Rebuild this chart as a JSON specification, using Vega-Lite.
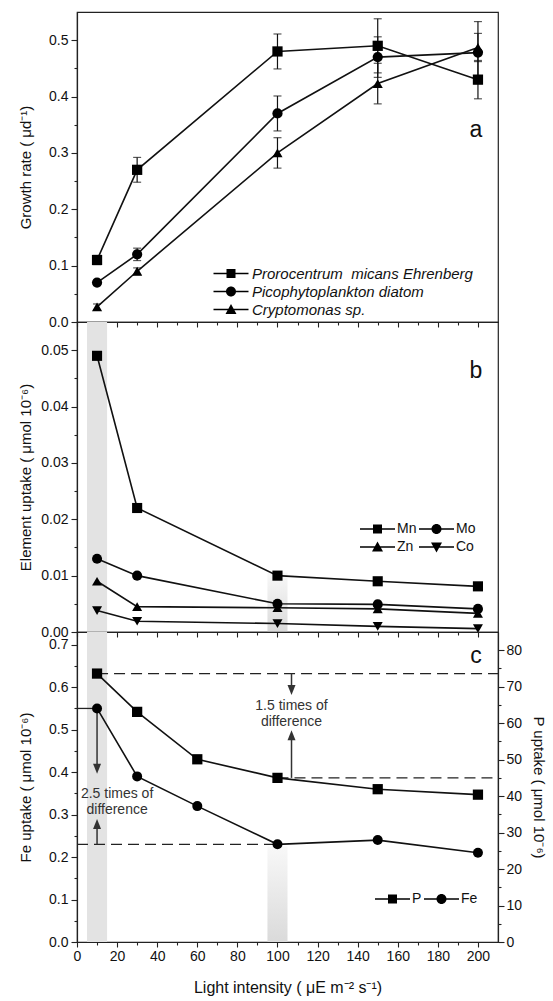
{
  "$schema": "https://vega.github.io/schema/vega-lite/v6.json",
  "padding": {"left": 17, "top": 11, "right": 8, "bottom": 2},
  "spacing": 0,
  "bounds": "flush",
  "config": {
    "font": "Liberation Sans",
    "view": {"stroke": "#222", "strokeWidth": 1.2},
    "axis": {"grid": false, "domainColor": "#222", "domainWidth": 1.2, "tickColor": "#222", "tickWidth": 1.1,
      "labelFont": "Liberation Sans", "labelFontSize": 14, "labelColor": "#111",
      "titleFont": "Liberation Sans", "titleFontSize": 15, "titleFontWeight": "normal", "titleColor": "#111",
      "labelOverlap": false, "labelFlush": false, "labelBound": false},
    "legend": {"labelFont": "Liberation Sans", "labelColor": "#111", "padding": 0, "labelLimit": 0}
  },
  "datasets": {
    "growth": [
      {"species": "Prorocentrum\u00a0 micans Ehrenberg", "light": 10, "rate": 0.11, "lo": 0.102, "hi": 0.118},
      {"species": "Prorocentrum\u00a0 micans Ehrenberg", "light": 30, "rate": 0.27, "lo": 0.248, "hi": 0.292},
      {"species": "Prorocentrum\u00a0 micans Ehrenberg", "light": 100, "rate": 0.48, "lo": 0.449, "hi": 0.511},
      {"species": "Prorocentrum\u00a0 micans Ehrenberg", "light": 150, "rate": 0.49, "lo": 0.442, "hi": 0.538},
      {"species": "Prorocentrum\u00a0 micans Ehrenberg", "light": 200, "rate": 0.43, "lo": 0.396, "hi": 0.464},
      {"species": "Picophytoplankton diatom", "light": 10, "rate": 0.07, "lo": 0.066, "hi": 0.074},
      {"species": "Picophytoplankton diatom", "light": 30, "rate": 0.12, "lo": 0.109, "hi": 0.131},
      {"species": "Picophytoplankton diatom", "light": 100, "rate": 0.37, "lo": 0.339, "hi": 0.401},
      {"species": "Picophytoplankton diatom", "light": 150, "rate": 0.47, "lo": 0.434, "hi": 0.506},
      {"species": "Picophytoplankton diatom", "light": 200, "rate": 0.478, "lo": 0.423, "hi": 0.533},
      {"species": "Cryptomonas sp.", "light": 10, "rate": 0.027, "lo": 0.022, "hi": 0.032},
      {"species": "Cryptomonas sp.", "light": 30, "rate": 0.09, "lo": 0.084, "hi": 0.096},
      {"species": "Cryptomonas sp.", "light": 100, "rate": 0.30, "lo": 0.273, "hi": 0.327},
      {"species": "Cryptomonas sp.", "light": 150, "rate": 0.423, "lo": 0.387, "hi": 0.459},
      {"species": "Cryptomonas sp.", "light": 200, "rate": 0.487, "lo": 0.462, "hi": 0.512}
    ],
    "elements": [
      {"element": "Mn", "light": 10, "uptake": 0.049},
      {"element": "Mn", "light": 30, "uptake": 0.022},
      {"element": "Mn", "light": 100, "uptake": 0.010},
      {"element": "Mn", "light": 150, "uptake": 0.009},
      {"element": "Mn", "light": 200, "uptake": 0.0081},
      {"element": "Mo", "light": 10, "uptake": 0.013},
      {"element": "Mo", "light": 30, "uptake": 0.010},
      {"element": "Mo", "light": 100, "uptake": 0.0050},
      {"element": "Mo", "light": 150, "uptake": 0.0049},
      {"element": "Mo", "light": 200, "uptake": 0.0041},
      {"element": "Zn", "light": 10, "uptake": 0.009},
      {"element": "Zn", "light": 30, "uptake": 0.0045},
      {"element": "Zn", "light": 100, "uptake": 0.0043},
      {"element": "Zn", "light": 150, "uptake": 0.0041},
      {"element": "Zn", "light": 200, "uptake": 0.0033},
      {"element": "Co", "light": 10, "uptake": 0.0038},
      {"element": "Co", "light": 30, "uptake": 0.0019},
      {"element": "Co", "light": 100, "uptake": 0.0015},
      {"element": "Co", "light": 150, "uptake": 0.0010},
      {"element": "Co", "light": 200, "uptake": 0.0006}
    ],
    "fep": [
      {"light": 10, "P": 73.6, "Fe": 0.55},
      {"light": 30, "P": 63.1, "Fe": 0.39},
      {"light": 60, "P": 50.1, "Fe": 0.32},
      {"light": 100, "P": 45.0, "Fe": 0.23},
      {"light": 150, "P": 41.9, "Fe": 0.24},
      {"light": 200, "P": 40.4, "Fe": 0.21}
    ],
    "bandFull": [{"x0": 5, "x1": 15}],
    "bandB": [{"x0": 95, "x1": 105, "y0": 0, "y1": 0.0105}],
    "bandC": [{"x0": 95, "x1": 105, "y0": 0, "y1": 0.225}],
    "refFe": [
      {"x0": 0, "x1": 10, "y": 0.55, "kind": "solid"},
      {"x0": 0, "x1": 100, "y": 0.23, "kind": "dash"}
    ],
    "refP": [
      {"x0": 10, "x1": 210, "y": 73.6},
      {"x0": 100, "x1": 210, "y": 45}
    ],
    "arrFe": [
      {"x": 10, "y0": 0.55, "y1": 0.408, "dir": "down"},
      {"x": 10, "y0": 0.23, "y1": 0.278, "dir": "up"}
    ],
    "arrP": [
      {"x": 107, "y0": 73.6, "y1": 69.1, "dir": "down"},
      {"x": 107, "y0": 45, "y1": 56.7, "dir": "up"}
    ],
    "notes": [
      {"x": 20, "y": 0.348, "text": "2.5 times of\ndifference"},
      {"x": 107, "y": 0.556, "text": "1.5 times of\ndifference"}
    ]
  },
  "vconcat": [
    {
      "width": 421, "height": 310,
      "resolve": {"scale": {"shape": "independent"}, "axis": {"x": "independent", "y": "independent"}},
      "layer": [
        {"data": {"name": "growth"},
         "mark": {"type": "errorbar", "ticks": {"size": 8}, "color": "#111", "thickness": 1.2},
         "encoding": {
           "x": {"field": "light", "type": "quantitative", "scale": {"domain": [0, 210], "nice": false}, "axis": null},
           "y": {"field": "lo", "type": "quantitative", "scale": {"domain": [0, 0.55], "nice": false}, "axis": null},
           "y2": {"field": "hi"}
         }},
        {"data": {"name": "growth"},
         "mark": {"type": "line", "color": "#111", "strokeWidth": 1.6},
         "encoding": {
           "x": {"field": "light", "type": "quantitative", "scale": {"domain": [0, 210], "nice": false},
             "axis": {"orient": "bottom", "values": [10,30,50,70,90,110,130,150,170,190], "labels": false, "title": null, "domain": false, "tickSize": 3}},
           "y": {"field": "rate", "type": "quantitative", "scale": {"domain": [0, 0.55], "nice": false},
             "axis": {"orient": "left", "values": [0.05,0.15,0.25,0.35,0.45], "labels": false, "title": null, "domain": false, "tickSize": 3}},
           "detail": {"field": "species", "type": "nominal"}
         }},
        {"data": {"name": "growth"},
         "mark": {"type": "point", "filled": true, "opacity": 1, "color": "#000"},
         "encoding": {
           "x": {"field": "light", "type": "quantitative", "scale": {"domain": [0, 210], "nice": false},
             "axis": {"orient": "bottom", "values": [0,20,40,60,80,100,120,140,160,180,200], "labels": false, "title": null, "tickSize": 5}},
           "y": {"field": "rate", "type": "quantitative", "scale": {"domain": [0, 0.55], "nice": false},
             "axis": {"orient": "left", "values": [0,0.1,0.2,0.3,0.4,0.5], "format": ".1f", "tickSize": 6,
               "labelPadding": 3, "title": "Growth rate ( μd⁻¹)", "titlePadding": 15}},
           "shape": {"field": "species", "type": "nominal",
             "scale": {"domain": ["Prorocentrum\u00a0 micans Ehrenberg", "Picophytoplankton diatom", "Cryptomonas sp."], "range": ["square", "circle", "triangle-up"]},
             "legend": null},
           "size": {"field": "species", "type": "nominal",
             "scale": {"domain": ["Prorocentrum\u00a0 micans Ehrenberg", "Picophytoplankton diatom", "Cryptomonas sp."], "range": [105, 100, 115]},
             "legend": null}
         }},
        {"data": {"name": "growth"},
         "transform": [{"filter": "false"}],
         "mark": {"type": "point", "filled": true, "opacity": 1, "color": "#000"},
         "encoding": {
           "x": {"field": "light", "type": "quantitative", "scale": {"domain": [0, 210], "nice": false}, "axis": null},
           "y": {"field": "rate", "type": "quantitative", "scale": {"domain": [0, 0.55], "nice": false}, "axis": null},
           "shape": {"field": "species", "type": "nominal",
             "scale": {"domain": ["Prorocentrum\u00a0 micans Ehrenberg", "Picophytoplankton diatom", "Cryptomonas sp."],
               "range": ["M-1,-0.15H6V0.15H-1Z M1.6,-0.9H3.4V0.9H1.6Z", "M-1,-0.15H6V0.15H-1Z M3.5,0A1,1 0 1,1 1.5,0A1,1 0 1,1 3.5,0Z", "M-1,-0.15H6V0.15H-1Z M2.5,-1.1L3.6,0.9L1.4,0.9Z"]},
             "legend": {"orient": "none", "legendX": 134, "legendY": 254, "title": null, "symbolSize": 100, "symbolStrokeWidth": 0,
               "symbolFillColor": "#000", "symbolOpacity": 1, "labelFontSize": 15, "labelFontStyle": "italic", "labelOffset": 26, "rowPadding": 2}}
         }},
        {"data": {"values": [{}]},
         "mark": {"type": "text", "text": "a", "fontSize": 23, "color": "#111"},
         "encoding": {
           "x": {"datum": 199, "type": "quantitative", "scale": {"domain": [0, 210], "nice": false}, "axis": null},
           "y": {"datum": 0.34, "type": "quantitative", "scale": {"domain": [0, 0.55], "nice": false}, "axis": null}
         }}
      ]
    },
    {
      "width": 421, "height": 310,
      "resolve": {"scale": {"shape": "independent"}, "axis": {"x": "independent", "y": "independent"}},
      "layer": [
        {"data": {"name": "bandFull"},
         "mark": {"type": "rect", "color": "#e3e3e3"},
         "encoding": {
           "x": {"field": "x0", "type": "quantitative", "scale": {"domain": [0, 210], "nice": false}, "axis": null},
           "x2": {"field": "x1"}
         }},
        {"data": {"name": "bandB"},
         "mark": {"type": "rect", "color": {"gradient": "linear", "x1": 0, "y1": 0, "x2": 0, "y2": 1, "stops": [{"offset": 0, "color": "#f8f8f8"}, {"offset": 1, "color": "#dadada"}]}},
         "encoding": {
           "x": {"field": "x0", "type": "quantitative", "scale": {"domain": [0, 210], "nice": false}, "axis": null},
           "x2": {"field": "x1"},
           "y": {"field": "y0", "type": "quantitative", "scale": {"domain": [0, 0.055], "nice": false}, "axis": null},
           "y2": {"field": "y1"}
         }},
        {"data": {"name": "elements"},
         "mark": {"type": "line", "color": "#111", "strokeWidth": 1.6},
         "encoding": {
           "x": {"field": "light", "type": "quantitative", "scale": {"domain": [0, 210], "nice": false},
             "axis": {"orient": "bottom", "values": [10,30,50,70,90,110,130,150,170,190], "labels": false, "title": null, "domain": false, "tickSize": 3}},
           "y": {"field": "uptake", "type": "quantitative", "scale": {"domain": [0, 0.055], "nice": false},
             "axis": {"orient": "left", "values": [0.005,0.015,0.025,0.035,0.045], "labels": false, "title": null, "domain": false, "tickSize": 3}},
           "detail": {"field": "element", "type": "nominal"}
         }},
        {"data": {"name": "elements"},
         "mark": {"type": "point", "filled": true, "opacity": 1, "color": "#000"},
         "encoding": {
           "x": {"field": "light", "type": "quantitative", "scale": {"domain": [0, 210], "nice": false},
             "axis": {"orient": "bottom", "values": [0,20,40,60,80,100,120,140,160,180,200], "labels": false, "title": null, "tickSize": 5}},
           "y": {"field": "uptake", "type": "quantitative", "scale": {"domain": [0, 0.055], "nice": false},
             "axis": {"orient": "left", "values": [0,0.01,0.02,0.03,0.04,0.05], "format": ".2f", "tickSize": 6,
               "labelPadding": 3, "title": "Element uptake ( μmol 10⁻⁶)", "titlePadding": 7}},
           "shape": {"field": "element", "type": "nominal",
             "scale": {"domain": ["Mn", "Mo", "Zn", "Co"], "range": ["square", "circle", "triangle-up", "triangle-down"]},
             "legend": null},
           "size": {"field": "element", "type": "nominal",
             "scale": {"domain": ["Mn", "Mo", "Zn", "Co"], "range": [105, 100, 115, 115]},
             "legend": null}
         }},
        {"data": {"name": "elements"},
         "transform": [{"filter": "false"}],
         "mark": {"type": "point", "filled": true, "opacity": 1, "color": "#000"},
         "encoding": {
           "x": {"field": "light", "type": "quantitative", "scale": {"domain": [0, 210], "nice": false}, "axis": null},
           "y": {"field": "uptake", "type": "quantitative", "scale": {"domain": [0, 0.055], "nice": false}, "axis": null},
           "shape": {"field": "element", "type": "nominal",
             "scale": {"domain": ["Mn", "Mo", "Zn", "Co"],
               "range": ["M-1,-0.15H6V0.15H-1Z M1.6,-0.9H3.4V0.9H1.6Z", "M-1,-0.15H6V0.15H-1Z M3.5,0A1,1 0 1,1 1.5,0A1,1 0 1,1 3.5,0Z", "M-1,-0.15H6V0.15H-1Z M2.5,-1.1L3.6,0.9L1.4,0.9Z", "M-1,-0.15H6V0.15H-1Z M1.4,-0.9L3.6,-0.9L2.5,1.1Z"]},
             "legend": {"orient": "none", "direction": "horizontal", "legendX": 281, "legendY": 200, "title": null, "columns": 2, "columnPadding": -5, "symbolSize": 100, "symbolStrokeWidth": 0,
               "symbolFillColor": "#000", "symbolOpacity": 1, "labelFontSize": 14, "labelOffset": 25, "rowPadding": 4}}
         }},
        {"data": {"values": [{}]},
         "mark": {"type": "text", "text": "b", "fontSize": 23, "color": "#111"},
         "encoding": {
           "x": {"datum": 199, "type": "quantitative", "scale": {"domain": [0, 210], "nice": false}, "axis": null},
           "y": {"datum": 0.0463, "type": "quantitative", "scale": {"domain": [0, 0.055], "nice": false}, "axis": null}
         }}
      ]
    },
    {
      "width": 421, "height": 310,
      "resolve": {"scale": {"y": "independent", "shape": "independent"}},
      "layer": [
        {"resolve": {"scale": {"shape": "independent"}, "axis": {"x": "independent", "y": "independent"}},
         "layer": [
          {"data": {"name": "bandFull"},
           "mark": {"type": "rect", "color": "#e3e3e3"},
           "encoding": {
             "x": {"field": "x0", "type": "quantitative", "scale": {"domain": [0, 210], "nice": false}, "axis": null},
             "x2": {"field": "x1"}
           }},
          {"data": {"name": "bandC"},
           "mark": {"type": "rect", "color": {"gradient": "linear", "x1": 0, "y1": 0, "x2": 0, "y2": 1, "stops": [{"offset": 0, "color": "#f8f8f8"}, {"offset": 1, "color": "#dadada"}]}},
           "encoding": {
             "x": {"field": "x0", "type": "quantitative", "scale": {"domain": [0, 210], "nice": false}, "axis": null},
             "x2": {"field": "x1"},
             "y": {"field": "y0", "type": "quantitative", "scale": {"domain": [0, 0.73], "nice": false}, "axis": null},
             "y2": {"field": "y1"}
           }},
          {"data": {"name": "refFe"},
           "transform": [{"filter": "datum.kind == 'solid'"}],
           "mark": {"type": "rule", "color": "#222", "strokeWidth": 1.3},
           "encoding": {
             "x": {"field": "x0", "type": "quantitative", "scale": {"domain": [0, 210], "nice": false}, "axis": null},
             "x2": {"field": "x1"},
             "y": {"field": "y", "type": "quantitative", "scale": {"domain": [0, 0.73], "nice": false}, "axis": null}
           }},
          {"data": {"name": "refFe"},
           "transform": [{"filter": "datum.kind == 'dash'"}],
           "mark": {"type": "rule", "color": "#222", "strokeWidth": 1.3, "strokeDash": [11, 6]},
           "encoding": {
             "x": {"field": "x0", "type": "quantitative", "scale": {"domain": [0, 210], "nice": false}, "axis": null},
             "x2": {"field": "x1"},
             "y": {"field": "y", "type": "quantitative", "scale": {"domain": [0, 0.73], "nice": false}, "axis": null}
           }},
          {"data": {"name": "arrFe"},
           "mark": {"type": "rule", "color": "#333", "strokeWidth": 1.5},
           "encoding": {
             "x": {"field": "x", "type": "quantitative", "scale": {"domain": [0, 210], "nice": false}, "axis": null},
             "y": {"field": "y0", "type": "quantitative", "scale": {"domain": [0, 0.73], "nice": false}, "axis": null},
             "y2": {"field": "y1"}
           }},
          {"data": {"name": "arrFe"},
           "transform": [{"filter": "datum.dir == 'down'"}],
           "mark": {"type": "point", "shape": "M-1,-1.25L1,-1.25L0,1.25Z", "filled": true, "opacity": 1, "color": "#333", "size": 64},
           "encoding": {
             "x": {"field": "x", "type": "quantitative", "scale": {"domain": [0, 210], "nice": false}, "axis": null},
             "y": {"field": "y1", "type": "quantitative", "scale": {"domain": [0, 0.73], "nice": false}, "axis": null}
           }},
          {"data": {"name": "arrFe"},
           "transform": [{"filter": "datum.dir == 'up'"}],
           "mark": {"type": "point", "shape": "M-1,1.25L1,1.25L0,-1.25Z", "filled": true, "opacity": 1, "color": "#333", "size": 64},
           "encoding": {
             "x": {"field": "x", "type": "quantitative", "scale": {"domain": [0, 210], "nice": false}, "axis": null},
             "y": {"field": "y1", "type": "quantitative", "scale": {"domain": [0, 0.73], "nice": false}, "axis": null}
           }},
          {"data": {"name": "notes"},
           "mark": {"type": "text", "lineBreak": "\n", "fontSize": 14, "lineHeight": 16, "color": "#333", "align": "center", "baseline": "middle"},
           "encoding": {
             "x": {"field": "x", "type": "quantitative", "scale": {"domain": [0, 210], "nice": false}, "axis": null},
             "y": {"field": "y", "type": "quantitative", "scale": {"domain": [0, 0.73], "nice": false}, "axis": null},
             "text": {"field": "text", "type": "nominal"}
           }},
          {"data": {"name": "fep"},
           "mark": {"type": "line", "color": "#111", "strokeWidth": 1.6},
           "encoding": {
             "x": {"field": "light", "type": "quantitative", "scale": {"domain": [0, 210], "nice": false},
               "axis": {"orient": "bottom", "values": [10,30,50,70,90,110,130,150,170,190], "labels": false, "title": null, "domain": false, "tickSize": 3}},
             "y": {"field": "Fe", "type": "quantitative", "scale": {"domain": [0, 0.73], "nice": false},
               "axis": {"orient": "left", "values": [0.05,0.15,0.25,0.35,0.45,0.55,0.65], "labels": false, "title": null, "domain": false, "tickSize": 3}}
           }},
          {"data": {"name": "fep"},
           "mark": {"type": "point", "shape": "circle", "filled": true, "opacity": 1, "color": "#000", "size": 100},
           "encoding": {
             "x": {"field": "light", "type": "quantitative", "scale": {"domain": [0, 210], "nice": false},
               "axis": {"orient": "bottom", "values": [0,20,40,60,80,100,120,140,160,180,200], "tickSize": 5, "format": "d",
                 "labelPadding": 2, "title": "Light intensity ( μE m⁻² s⁻¹)", "titleFontSize": 16, "titlePadding": 16}},
             "y": {"field": "Fe", "type": "quantitative", "scale": {"domain": [0, 0.73], "nice": false},
               "axis": {"orient": "left", "values": [0,0.1,0.2,0.3,0.4,0.5,0.6,0.7], "format": ".1f", "tickSize": 6,
                 "labelPadding": 3, "title": "Fe uptake ( μmol 10⁻⁶)", "titlePadding": 15}}
           }},
          {"data": {"name": "fep"},
           "transform": [{"filter": "false"}],
           "mark": {"type": "point", "filled": true, "opacity": 1, "color": "#000"},
           "encoding": {
             "x": {"field": "light", "type": "quantitative", "scale": {"domain": [0, 210], "nice": false}, "axis": null},
             "y": {"field": "Fe", "type": "quantitative", "scale": {"domain": [0, 0.73], "nice": false}, "axis": null},
             "shape": {"datum": "P", "type": "nominal",
               "scale": {"domain": ["P", "Fe"],
                 "range": ["M-1,-0.15H6V0.15H-1Z M1.6,-0.9H3.4V0.9H1.6Z", "M-1,-0.15H6V0.15H-1Z M3.5,0A1,1 0 1,1 1.5,0A1,1 0 1,1 3.5,0Z"]},
               "legend": {"orient": "none", "direction": "horizontal", "legendX": 296, "legendY": 260, "title": null, "columns": 2, "columnPadding": -3, "symbolSize": 100, "symbolStrokeWidth": 0,
                 "symbolFillColor": "#000", "symbolOpacity": 1, "labelFontSize": 14, "labelOffset": 25}}
           }},
          {"data": {"values": [{}]},
           "mark": {"type": "text", "text": "c", "fontSize": 23, "color": "#111"},
           "encoding": {
             "x": {"datum": 199, "type": "quantitative", "scale": {"domain": [0, 210], "nice": false}, "axis": null},
             "y": {"datum": 0.674, "type": "quantitative", "scale": {"domain": [0, 0.73], "nice": false}, "axis": null}
           }}
        ]},
        {"resolve": {"axis": {"y": "independent"}},
         "layer": [
          {"data": {"name": "refP"},
           "mark": {"type": "rule", "color": "#222", "strokeWidth": 1.3, "strokeDash": [11, 6]},
           "encoding": {
             "x": {"field": "x0", "type": "quantitative", "scale": {"domain": [0, 210], "nice": false}, "axis": null},
             "x2": {"field": "x1"},
             "y": {"field": "y", "type": "quantitative", "scale": {"domain": [0, 85], "nice": false}, "axis": null}
           }},
          {"data": {"name": "arrP"},
           "mark": {"type": "rule", "color": "#333", "strokeWidth": 1.5},
           "encoding": {
             "x": {"field": "x", "type": "quantitative", "scale": {"domain": [0, 210], "nice": false}, "axis": null},
             "y": {"field": "y0", "type": "quantitative", "scale": {"domain": [0, 85], "nice": false}, "axis": null},
             "y2": {"field": "y1"}
           }},
          {"data": {"name": "arrP"},
           "transform": [{"filter": "datum.dir == 'down'"}],
           "mark": {"type": "point", "shape": "M-1,-1.25L1,-1.25L0,1.25Z", "filled": true, "opacity": 1, "color": "#333", "size": 64},
           "encoding": {
             "x": {"field": "x", "type": "quantitative", "scale": {"domain": [0, 210], "nice": false}, "axis": null},
             "y": {"field": "y1", "type": "quantitative", "scale": {"domain": [0, 85], "nice": false}, "axis": null}
           }},
          {"data": {"name": "arrP"},
           "transform": [{"filter": "datum.dir == 'up'"}],
           "mark": {"type": "point", "shape": "M-1,1.25L1,1.25L0,-1.25Z", "filled": true, "opacity": 1, "color": "#333", "size": 64},
           "encoding": {
             "x": {"field": "x", "type": "quantitative", "scale": {"domain": [0, 210], "nice": false}, "axis": null},
             "y": {"field": "y1", "type": "quantitative", "scale": {"domain": [0, 85], "nice": false}, "axis": null}
           }},
          {"data": {"name": "fep"},
           "mark": {"type": "line", "color": "#111", "strokeWidth": 1.6},
           "encoding": {
             "x": {"field": "light", "type": "quantitative", "scale": {"domain": [0, 210], "nice": false}, "axis": null},
             "y": {"field": "P", "type": "quantitative", "scale": {"domain": [0, 85], "nice": false},
               "axis": {"orient": "right", "values": [5,15,25,35,45,55,65,75], "labels": false, "title": null, "domain": false, "tickSize": 3}}
           }},
          {"data": {"name": "fep"},
           "mark": {"type": "point", "shape": "square", "filled": true, "opacity": 1, "color": "#000", "size": 105},
           "encoding": {
             "x": {"field": "light", "type": "quantitative", "scale": {"domain": [0, 210], "nice": false}, "axis": null},
             "y": {"field": "P", "type": "quantitative", "scale": {"domain": [0, 85], "nice": false},
               "axis": {"orient": "right", "values": [0,10,20,30,40,50,60,70,80], "tickSize": 6,
                 "labelPadding": 2, "title": "P uptake ( μmol 10⁻⁶)", "titlePadding": 9}}
           }}
        ]}
      ]
    }
  ]
}
